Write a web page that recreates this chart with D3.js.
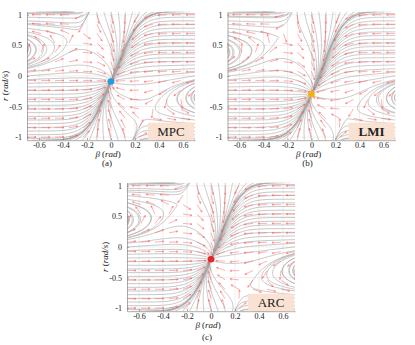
<!DOCTYPE html>
<html>
<head>
<meta charset="utf-8">
<script src="https://cdn.jsdelivr.net/npm/d3@7"></script>
<style>
  body { margin: 0; background: #fff; }
  svg text { font-family: "Liberation Serif", "Times New Roman", serif; fill: #222; }
</style>
</head>
<body>
<div id="chart"></div>
<script>
// ---- data ----
var methods = ["MPC", "LMI", "ARC"];
var tags = ["(a)", "(b)", "(c)"];
var eqBeta = [0, 0, 0];              // closed-loop equilibrium, beta (rad)
var eqR = [-0.09, -0.30, -0.20];     // closed-loop equilibrium, r (rad/s)
var upperFlipR = [0.42, 0.38, 0.44]; // r where the left-side flow turns back
var lowerFlipR = [-0.35, -0.35, -0.38]; // r where the right-side flow turns back
var eqColors = ["#1f9de3", "#f6b10a", "#e2262c"];
var betaTicks = [-0.6, -0.4, -0.2, 0, 0.2, 0.4, 0.6];
var rTicks = [-1, -0.5, 0, 0.5, 1];
var quiverBeta = [-0.7, -0.583, -0.467, -0.35, -0.233, -0.117, 0, 0.117, 0.233, 0.35, 0.467, 0.583, 0.7];
var quiverR = [-1, -0.846, -0.692, -0.538, -0.385, -0.231, -0.077, 0.077, 0.231, 0.385, 0.538, 0.692, 0.846, 1];
var seedR = [-1.02, -0.96, -0.90, -0.84, -0.78, -0.72, -0.66, -0.60, -0.54, -0.48, -0.42, -0.36, -0.30, -0.24,
             -0.18, -0.12, -0.06, 0, 0.06, 0.12, 0.18, 0.24, 0.30, 0.36, 0.42, 0.48, 0.54, 0.60, 0.66, 0.72,
             0.78, 0.84, 0.90, 0.96, 1.02];
var seedBeta = [-0.66, -0.60, -0.54, -0.48, -0.42, -0.36, -0.30, -0.24, -0.18, -0.12, -0.06, 0,
                0.06, 0.12, 0.18, 0.24, 0.30, 0.36, 0.42, 0.48, 0.54, 0.60, 0.66];

// ---- model constants (shape of the phase portrait) ----
var slope = 0.1,     // tilt of the slow manifold through the equilibrium
    bendW = 0.2,     // width of the tyre-saturation bend
    gainB = 2,       // far-field beta rate
    gainR = 8,       // yaw-rate restoring rate near the manifold
    coreW = 0.2,
    valleyW = 0.3, valleyD = 1,
    turnR = 0.5, flipH = 0.35;

var betaDom = [-0.7, 0.7], rDom = [-1.05, 1.05];

// ---- layout ----
var W = 415, H = 345;
var plotW = 168, plotH = 128.5;
var offX = [27, 227.5, 127], offY = [11.7, 11.7, 182.7];
var tagDy = [26, 26, 29];
var showYTitle = [true, false, true];

var svg = d3.select("#chart").append("svg")
    .attr("width", W)
    .attr("height", H);

function flow(b, r, k) {
  var yy = r - eqR[k];
  var u = (b - eqBeta[k]) - slope * yy;
  var t = Math.tanh(u / bendW);
  var sR = 0.5 * (1 + t);
  var valley = Math.exp(-(u / valleyW) * (u / valleyW));
  var vR = gainB * (r - lowerFlipR[k] + valleyD * valley);
  var vL = gainB * (upperFlipR[k] - r + valleyD * valley);
  var db = -t * (sR * vR + (1 - sR) * vL);
  var g = Math.exp(-(u / coreW) * (u / coreW));
  var hR = Math.exp(-Math.pow((r - lowerFlipR[k]) / flipH, 2));
  var hL = Math.exp(-Math.pow((r - upperFlipR[k]) / flipH, 2));
  var dr = -gainR * yy * g + turnR * (1 - g) * ((1 - sR) * hL - sR * hR);
  return [db, dr];
}

methods.forEach(function(name, k) {
  var x = d3.scaleLinear().domain(betaDom).range([offX[k], offX[k] + plotW]);
  var y = d3.scaleLinear().domain(rDom).range([offY[k] + plotH, offY[k]]);
  var kx = (x(1) - x(0)), ky = (y(0) - y(1));

  // direction of the field, normalised in screen pixels
  function dir(b, r, sgn) {
    var f = flow(b, r, k);
    var dx = f[0] * kx, dy = f[1] * ky;
    var n = Math.sqrt(dx * dx + dy * dy);
    if (n < 1e-9) return null;
    return [sgn * dx / n / kx, sgn * dy / n / ky];
  }

  function inside(b, r) {
    return b >= betaDom[0] - 1e-6 && b <= betaDom[1] + 1e-6 && r >= rDom[0] - 1e-6 && r <= rDom[1] + 1e-6;
  }

  function trace(b0, r0, sgn) {
    var pts = [[b0, r0]], b = b0, r = r0, h = 1;
    for (var i = 0; i < 1500; i++) {
      var k1 = dir(b, r, sgn); if (!k1) break;
      var k2 = dir(b + h / 2 * k1[0], r + h / 2 * k1[1], sgn); if (!k2) break;
      var k3 = dir(b + h / 2 * k2[0], r + h / 2 * k2[1], sgn); if (!k3) break;
      var k4 = dir(b + h * k3[0], r + h * k3[1], sgn); if (!k4) break;
      b += h / 6 * (k1[0] + 2 * k2[0] + 2 * k3[0] + k4[0]);
      r += h / 6 * (k1[1] + 2 * k2[1] + 2 * k3[1] + k4[1]);
      if (!inside(b, r)) break;
      pts.push([b, r]);
      var ex = (b - eqBeta[k]) * kx, ey = (r - eqR[k]) * ky;
      if (ex * ex + ey * ey < 1.5) break;
      if (i > 60 && i % 30 == 0) {
        var p = pts[pts.length - 60];
        var mx = (b - p[0]) * kx, my = (r - p[1]) * ky;
        if (mx * mx + my * my < 16) break;
      }
    }
    return pts;
  }

  var seeds = [];
  seedR.forEach(function(r) { seeds.push([betaDom[0], r]); seeds.push([betaDom[1], r]); });
  seedBeta.forEach(function(b) { seeds.push([b, rDom[0]]); seeds.push([b, rDom[1]]); });

  var lines = [];
  seeds.forEach(function(s) {
    var fw = trace(s[0], s[1], 1);
    var bw = trace(s[0], s[1], -1);
    var pts = bw.slice(1).reverse().concat(fw);
    if (pts.length > 4) lines.push(pts);
  });

  var clipId = "clip" + k;
  svg.append("clipPath").attr("id", clipId)
    .append("rect")
      .attr("x", offX[k]).attr("y", offY[k])
      .attr("width", plotW).attr("height", plotH);

  var g = svg.append("g");

  // grid
  g.selectAll(".vgrid").data(betaTicks).enter().append("line")
      .attr("x1", function(d) { return x(d); }).attr("x2", function(d) { return x(d); })
      .attr("y1", offY[k]).attr("y2", offY[k] + plotH)
      .attr("stroke", "#e4e4e4").attr("stroke-width", 0.6);
  g.selectAll(".hgrid").data(rTicks).enter().append("line")
      .attr("y1", function(d) { return y(d); }).attr("y2", function(d) { return y(d); })
      .attr("x1", offX[k]).attr("x2", offX[k] + plotW)
      .attr("stroke", "#e4e4e4").attr("stroke-width", 0.6);

  var plot = g.append("g").attr("clip-path", "url(#" + clipId + ")");

  // streamlines
  var line = d3.line().x(function(d) { return x(d[0]); }).y(function(d) { return y(d[1]); });
  plot.selectAll(".stream").data(lines).enter().append("path")
      .attr("d", line)
      .attr("fill", "none")
      .attr("stroke", "#a9a9a9")
      .attr("stroke-width", 0.8)
      .attr("stroke-opacity", 0.8);

  // quiver arrows
  var arrows = [];
  quiverBeta.forEach(function(b) {
    quiverR.forEach(function(r) { arrows.push([b, r]); });
  });
  var len = 9, head = 2.2;
  plot.selectAll(".arrow").data(arrows).enter().append("path")
      .attr("d", function(d) {
        var f = flow(d[0], d[1], k);
        var dx = f[0] * kx, dy = -f[1] * ky;
        var n = Math.sqrt(dx * dx + dy * dy) || 1;
        dx /= n; dy /= n;
        var x0 = x(d[0]), y0 = y(d[1]);
        var x1 = x0 + dx * len, y1 = y0 + dy * len;
        var a = Math.atan2(dy, dx);
        var hx1 = x1 - head * Math.cos(a - 0.45), hy1 = y1 - head * Math.sin(a - 0.45);
        var hx2 = x1 - head * Math.cos(a + 0.45), hy2 = y1 - head * Math.sin(a + 0.45);
        return "M" + x0 + "," + y0 + "L" + x1 + "," + y1 +
               "M" + hx1 + "," + hy1 + "L" + x1 + "," + y1 + "L" + hx2 + "," + hy2;
      })
      .attr("fill", "none")
      .attr("stroke", "#ff4545")
      .attr("stroke-opacity", 0.65)
      .attr("stroke-width", 0.65);

  // axes
  var xAxis = d3.axisBottom(x).tickValues(betaTicks).tickSizeInner(-2).tickSizeOuter(0)
      .tickPadding(2.5).tickFormat(function(d) { return String(d); });
  var yAxis = d3.axisLeft(y).tickValues(rTicks).tickSizeInner(-2).tickSizeOuter(0)
      .tickPadding(5).tickFormat(function(d) { return String(d); });
  var gx = g.append("g").attr("transform", "translate(0," + (offY[k] + plotH) + ")").call(xAxis);
  var gy = g.append("g").attr("transform", "translate(" + offX[k] + ",0)").call(yAxis);
  [gx, gy].forEach(function(a) {
    a.selectAll("path,line").attr("stroke", "#777").attr("stroke-width", 0.6);
    a.selectAll("text").style("font-size", "8px").attr("fill", "#222")
      .style("font-family", "'Liberation Serif', serif");
  });

  // method label box
  var bx = offX[k] + plotW - 47, by = offY[k] + plotH - 17.5;
  g.append("rect").attr("x", bx).attr("y", by).attr("width", 46).attr("height", 17.5)
      .attr("fill", "#fae2d2");
  g.append("text").attr("x", bx + 23).attr("y", by + 13)
      .attr("text-anchor", "middle")
      .style("font-size", "13px")
      .style("font-weight", name == "LMI" ? "bold" : "normal")
      .text(name);

  // equilibrium point
  g.append("circle").attr("cx", x(eqBeta[k])).attr("cy", y(eqR[k])).attr("r", 3.3)
      .attr("fill", eqColors[k]);

  // axis titles
  var xt = g.append("text").attr("x", x(0) - 3).attr("y", offY[k] + plotH + 17)
      .attr("text-anchor", "middle").style("font-size", "9px");
  xt.append("tspan").style("font-style", "italic").text("β");
  xt.append("tspan").text(" (");
  xt.append("tspan").style("font-style", "italic").text("rad");
  xt.append("tspan").text(")");

  g.append("text").attr("x", x(0) - 4).attr("y", offY[k] + plotH + tagDy[k])
      .attr("text-anchor", "middle").style("font-size", "9px").text(tags[k]);

  if (showYTitle[k]) {
    var cy = offY[k] + plotH / 2 + 10;
    var yt = g.append("text")
        .attr("transform", "translate(" + (offX[k] - 19) + "," + cy + ") rotate(-90)")
        .attr("text-anchor", "middle").style("font-size", "9px");
    yt.append("tspan").style("font-style", "italic").text("r");
    yt.append("tspan").text(" (");
    yt.append("tspan").style("font-style", "italic").text("rad/s");
    yt.append("tspan").text(")");
  }
});
</script>
</body>
</html>
